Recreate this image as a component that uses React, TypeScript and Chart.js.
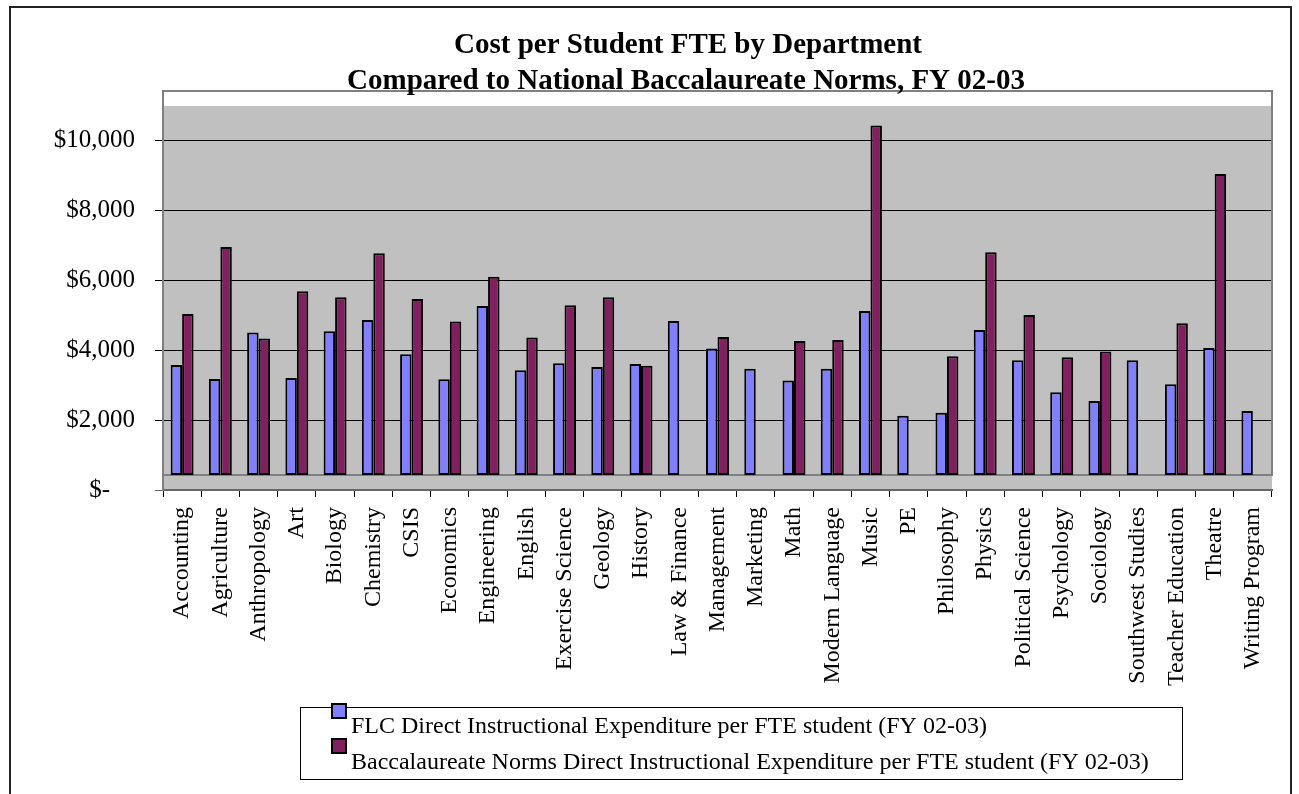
import React, { useEffect, useRef } from "react";
import { Chart, registerables } from "chart.js";

Chart.register(...registerables);

const categories = [
  "Accounting", "Agriculture", "Anthropology", "Art", "Biology", "Chemistry", "CSIS",
  "Economics", "Engineering", "English", "Exercise Science", "Geology", "History",
  "Law & Finance", "Management", "Marketing", "Math", "Modern Language", "Music", "PE",
  "Philosophy", "Physics", "Political Science", "Psychology", "Sociology",
  "Southwest Studies", "Teacher Education", "Theatre", "Writing Program",
];

const flcValues = [
  3580, 3180, 4510, 3210, 4550, 4870, 3890, 3170, 5270, 3430, 3630, 3520, 3610,
  4840, 4050, 3470, 3140, 3470, 5130, 2130, 2210, 4580, 3720, 2800, 2550, 3720,
  3030, 4070, 2260,
];

const normValues = [
  5040, 6960, 4340, 5690, 5520, 6780, 5470, 4830, 6110, 4370, 5290, 5520, 3560,
  null, 4380, null, 4270, 4300, 10440, null, 3830, 6810, 5010, 3800, 3970, null,
  4780, 9050, null,
];

const yTickValues = [0, 2000, 4000, 6000, 8000, 10000];

const titleLines = [
  "Cost per Student FTE by Department",
  "Compared to National Baccalaureate Norms, FY 02-03",
];

const seriesLabels = [
  "FLC Direct Instructional Expenditure per FTE student (FY 02-03)",
  "Baccalaureate Norms Direct Instructional Expenditure per FTE student (FY 02-03)",
];

const FONT = "'Times New Roman', 'Liberation Serif', serif";
const FLC_COLOR = "#8080ff";
const NORM_COLOR = "#802060";
const FLOOR_BASE = 430; // raised floor of the plot (3D depth look)
const DEPTH_PX = 15;

const framePlugin = {
  id: "excelFrame",
  beforeDraw(chart: any) {
    const { ctx, chartArea: a } = chart;
    ctx.save();
    ctx.fillStyle = "#ffffff";
    ctx.fillRect(0, 0, chart.width, chart.height);
    ctx.fillStyle = "#c0c0c0";
    ctx.fillRect(a.left, a.top, a.right - a.left, a.bottom - a.top);
    ctx.strokeStyle = "#222222";
    ctx.lineWidth = 2;
    ctx.strokeRect(10, 7, 1281, 820);
    ctx.restore();
  },
  beforeDatasetsDraw(chart: any) {
    const { ctx, chartArea: a } = chart;
    ctx.save();
    ctx.strokeStyle = "#808080";
    ctx.lineWidth = 2;
    ctx.strokeRect(a.left, a.top - DEPTH_PX, a.right - a.left, a.bottom - a.top);
    ctx.restore();
  },
  afterDraw(chart: any) {
    const { ctx } = chart;
    ctx.save();
    // title
    ctx.fillStyle = "#000";
    ctx.font = `bold 29px ${FONT}`;
    ctx.textAlign = "center";
    ctx.textBaseline = "alphabetic";
    ctx.fillText(titleLines[0], 688, 53);
    ctx.fillText(titleLines[1], 686, 89);
    // legend
    ctx.strokeStyle = "#000";
    ctx.lineWidth = 1;
    ctx.strokeRect(300.5, 707.5, 882, 72);
    chart.data.datasets.forEach((ds: any, i: number) => {
      const sy = 704 + i * 35;
      ctx.fillStyle = ds.backgroundColor;
      ctx.fillRect(332, sy, 14, 14);
      ctx.lineWidth = 2;
      ctx.strokeStyle = "#000";
      ctx.strokeRect(332, sy, 14, 14);
      ctx.fillStyle = "#000";
      ctx.font = `24px ${FONT}`;
      ctx.textAlign = "left";
      ctx.fillText(ds.label, 351, 733 + i * 36);
    });
    ctx.restore();
  },
};

export default function App() {
  const canvasRef = useRef<HTMLCanvasElement | null>(null);

  useEffect(() => {
    const canvas = canvasRef.current;
    if (!canvas) return;
    const chart = new Chart(canvas, {
      type: "bar",
      data: {
        labels: categories,
        datasets: [
          {
            label: seriesLabels[0],
            data: flcValues,
            backgroundColor: FLC_COLOR,
            borderColor: "#000",
            borderWidth: 2,
            borderSkipped: false,
            base: FLOOR_BASE,
            categoryPercentage: 0.6,
            barPercentage: 1.0,
          },
          {
            label: seriesLabels[1],
            data: normValues,
            backgroundColor: NORM_COLOR,
            borderColor: "#000",
            borderWidth: 2,
            borderSkipped: false,
            base: FLOOR_BASE,
            categoryPercentage: 0.6,
            barPercentage: 1.0,
          },
        ] as any,
      },
      options: {
        animation: false,
        responsive: false,
        devicePixelRatio: 1,
        layout: { padding: { left: 0, top: 106, right: 27, bottom: 0 } },
        plugins: {
          legend: { display: false },
          title: { display: false },
          tooltip: { enabled: false },
        },
        scales: {
          x: {
            offset: true,
            grid: {
              display: true,
              drawOnChartArea: false,
              drawTicks: true,
              tickLength: 7,
              color: "#000",
              offset: true,
            },
            border: { display: true, color: "#666", width: 2 },
            ticks: {
              autoSkip: false,
              maxRotation: 90,
              minRotation: 90,
              padding: 10,
              color: "#000",
              font: { family: FONT, size: 24 },
            },
            afterFit: (s: any) => {
              s.height = 304;
            },
          },
          y: {
            min: 0,
            max: 11000,
            afterBuildTicks: (s: any) => {
              s.ticks = yTickValues.map((v) => ({ value: v }));
            },
            grid: {
              color: (c: any) => (c.tick && c.tick.value === 0 ? "#666" : "#000"),
              lineWidth: 1,
              tickLength: 8,
              drawTicks: true,
            },
            border: { display: true, color: "#808080", width: 2 },
            ticks: {
              padding: 20,
              color: "#000",
              font: { family: FONT, size: 25 },
              callback: (v: any) =>
                Number(v) === 0 ? "$-    " : "$" + Number(v).toLocaleString("en-US"),
            },
            afterFit: (s: any) => {
              s.width = 163;
            },
          },
        },
      },
      plugins: [framePlugin],
    });
    return () => chart.destroy();
  }, []);

  return (
    <div style={{ position: "absolute", left: 0, top: 0, width: 1299, height: 794 }}>
      <canvas ref={canvasRef} width={1299} height={794} />
    </div>
  );
}
